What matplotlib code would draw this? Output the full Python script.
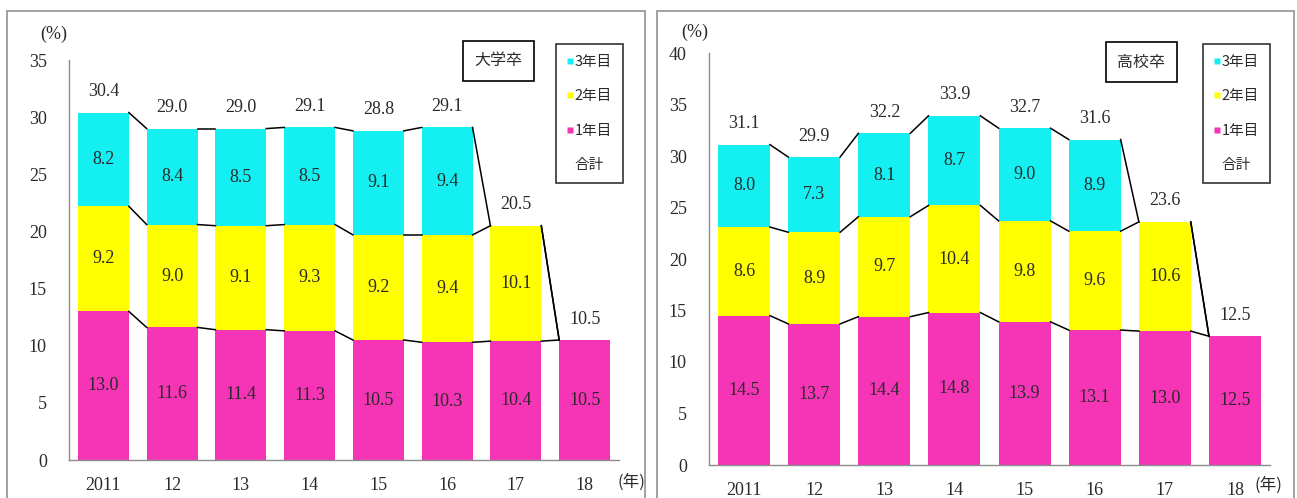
import numpy as np
import matplotlib
matplotlib.use("Agg")
import matplotlib.pyplot as plt
from matplotlib.patches import Rectangle
from matplotlib.lines import Line2D

plt.rcParams['font.family'] = ['Liberation Serif', 'Noto Sans CJK JP', 'DejaVu Sans']

categories = ["2011", "12", "13", "14", "15", "16", "17", "18"]
series_names = ["1年目", "2年目", "3年目"]

univ_y1 = [13.0, 11.6, 11.4, 11.3, 10.5, 10.3, 10.4, 10.5]
univ_y2 = [9.2, 9.0, 9.1, 9.3, 9.2, 9.4, 10.1, None]
univ_y3 = [8.2, 8.4, 8.5, 8.5, 9.1, 9.4, None, None]
univ_total = [30.4, 29.0, 29.0, 29.1, 28.8, 29.1, 20.5, 10.5]

high_y1 = [14.5, 13.7, 14.4, 14.8, 13.9, 13.1, 13.0, 12.5]
high_y2 = [8.6, 8.9, 9.7, 10.4, 9.8, 9.6, 10.6, None]
high_y3 = [8.0, 7.3, 8.1, 8.7, 9.0, 8.9, None, None]
high_total = [31.1, 29.9, 32.2, 33.9, 32.7, 31.6, 23.6, 12.5]

colors = {"1年目": "#F534B6", "2年目": "#FFFF00", "3年目": "#14EFF2"}

W, H = 1297, 498
fig = plt.figure(figsize=(W / 100, H / 100), dpi=100)


def fx(px):
    return px / W


def fy(py):
    return 1 - py / H


# panel borders
for x0, x1 in [(7, 645), (657, 1294)]:
    fig.patches.append(Rectangle((fx(x0), fy(505)), fx(x1 - x0), (505 - 11) / H,
                                 transform=fig.transFigure, fill=False,
                                 edgecolor="#9a9a9a", lw=1.3))


def panel(ax_rect, y1, y2, y3, total, ymax, title, title_xy, legend_xy,
          pct_xy, nen_xy):
    ax = fig.add_axes(ax_rect)
    x = np.arange(len(categories))
    w = 0.74
    a1 = np.array([np.nan if v is None else v for v in y1], dtype=float)
    a2 = np.array([np.nan if v is None else v for v in y2], dtype=float)
    a3 = np.array([np.nan if v is None else v for v in y3], dtype=float)
    z1, z2, z3 = np.nan_to_num(a1), np.nan_to_num(a2), np.nan_to_num(a3)
    c1 = z1
    c2 = z1 + z2
    c3 = z1 + z2 + z3
    segs = [(a1, np.zeros_like(z1), "1年目"), (a2, c1, "2年目"), (a3, c2, "3年目")]
    for vals, bottom, name in segs:
        mask = ~np.isnan(vals)
        ax.bar(x[mask], vals[mask], w, bottom=bottom[mask], color=colors[name],
               linewidth=0, zorder=2)
        for xi, v, b in zip(x[mask], vals[mask], bottom[mask]):
            ax.text(xi, b + v / 2, f"{v:.1f}", ha="center", va="center",
                    fontsize=13, color="#2a2a2a", zorder=4)
    # connector lines
    for cum in (c1, c2, c3):
        for i in range(len(x) - 1):
            ax.plot([x[i] + w / 2, x[i + 1] - w / 2], [cum[i], cum[i + 1]],
                    color="black", lw=1.1, zorder=3)
    # totals
    for xi, t in zip(x, total):
        ax.annotate(f"{t:.1f}", (xi, t), xytext=(0, 21), textcoords="offset pixels",
                    ha="center", va="center", fontsize=13, color="#2a2a2a")
    ax.set_xlim(-0.5, len(categories) - 0.5)
    ax.set_ylim(0, ymax)
    ax.set_yticks(np.arange(0, ymax + 1, 5))
    ax.set_xticks(x)
    ax.set_xticklabels(categories)
    ax.tick_params(axis="both", length=0, labelsize=13, colors="#2a2a2a")
    ax.tick_params(axis="y", pad=16)
    ax.tick_params(axis="x", pad=12)
    for s in ("top", "right"):
        ax.spines[s].set_visible(False)
    for s in ("left", "bottom"):
        ax.spines[s].set_color("#8c8c8c")
        ax.spines[s].set_linewidth(1.0)
    fig.text(fx(pct_xy[0]), fy(pct_xy[1]), "(%)", ha="center", va="center",
             fontsize=13, color="#2a2a2a")
    fig.text(fx(nen_xy[0]), fy(nen_xy[1]), "(年)", ha="center", va="center",
             fontsize=12, family=["Noto Sans CJK JP"], color="#2a2a2a")
    fig.text(fx(title_xy[0]), fy(title_xy[1]), title, ha="center", va="center",
             fontsize=11.5, family=["Noto Sans CJK JP"], color="#2a2a2a",
             bbox=dict(boxstyle="square,pad=0.7", fc="white", ec="black", lw=1.2))
    handles = [Line2D([], [], ls="none", marker="s", markersize=5,
                      markerfacecolor=colors[n], markeredgecolor="none")
               for n in ["3年目", "2年目", "1年目"]]
    handles.append(Line2D([], [], ls="none", marker="none"))
    leg = fig.legend(handles, ["3年目", "2年目", "1年目", "合計"], loc="upper left",
                     bbox_to_anchor=(fx(legend_xy[0]), fy(legend_xy[1])),
                     frameon=True, fancybox=False,
                     prop={"family": ["Noto Sans CJK JP"], "size": 10.5},
                     handlelength=0.4, handletextpad=0.12, labelspacing=1.4,
                     borderpad=0.75, borderaxespad=0)
    leg.get_frame().set_edgecolor("black")
    leg.get_frame().set_linewidth(1.2)
    for t in leg.get_texts():
        t.set_color("#2a2a2a")
    return ax


panel([fx(69), fy(460), fx(619 - 69), (460 - 60) / H], univ_y1, univ_y2, univ_y3,
      univ_total, 35, "大学卒", (498.5, 61), (556, 44), (54, 34), (631, 482))
panel([fx(709), fy(465), fx(1270 - 709), (465 - 53) / H], high_y1, high_y2, high_y3,
      high_total, 40, "高校卒", (1141.5, 62), (1203, 44), (695, 32), (1268, 485))

fig.savefig("out.png", dpi=100)
